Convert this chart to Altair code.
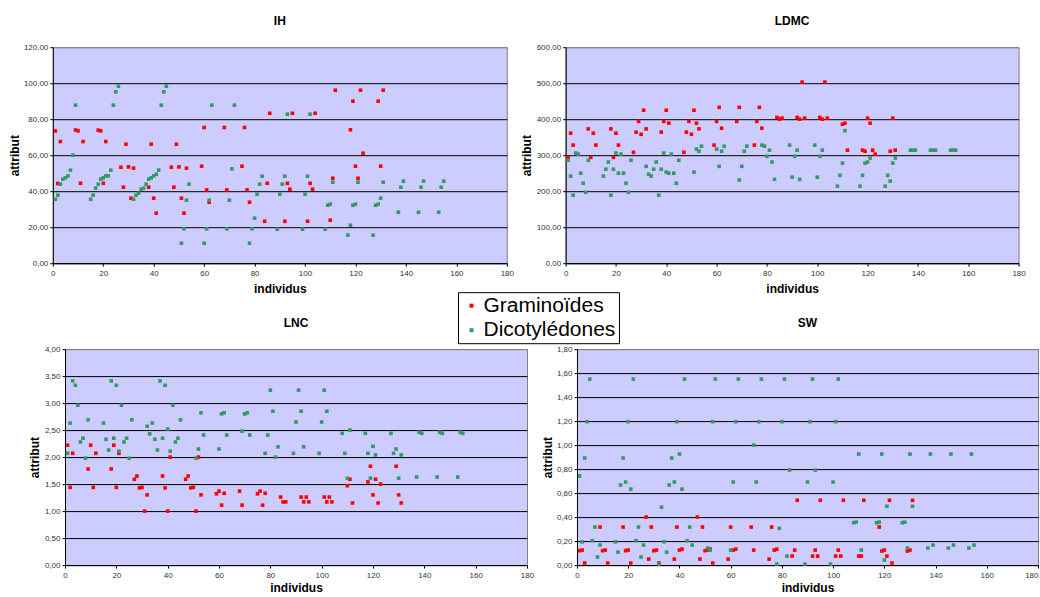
import altair as alt
import pandas as pd

FONT = "Liberation Sans"
GROUPS = ["Graminoïdes", "Dicotylédones"]
COLORS = ["#FF0000", "#339966"]

X_TICKS = [0, 20, 40, 60, 80, 100, 120, 140, 160, 180]
IH_TICKS = [0, 20, 40, 60, 80, 100, 120]
LDMC_TICKS = [0, 100, 200, 300, 400, 500, 600]
LNC_TICKS = [0, 0.5, 1.0, 1.5, 2.0, 2.5, 3.0, 3.5, 4.0]
SW_TICKS = [0, 0.2, 0.4, 0.6, 0.8, 1.0, 1.2, 1.4, 1.6, 1.8]

RED_IDX = [1, 2, 3, 9, 10, 11, 12, 18, 19, 20, 21, 27, 28, 29, 30, 31, 32,
           38, 39, 40, 41, 47, 48, 49, 50, 51, 52, 53, 59, 60, 61, 62, 68, 69,
           75, 76, 77, 78, 84, 85, 86, 92, 93, 94, 95, 101, 102, 103, 104,
           110, 111, 112, 118, 119, 120, 121, 122, 123, 129, 130, 131]
GREEN_IDX = [1, 2, 3, 4, 5, 6, 7, 8, 9,
             15, 16, 17, 18, 19, 20, 21, 22, 23, 24, 25, 26,
             32, 33, 34, 35, 36, 37, 38, 39, 40, 41, 42, 43, 44, 45,
             51, 52, 53, 54, 60, 61, 62, 63, 69, 70, 71, 72,
             78, 79, 80, 81, 82, 83, 89, 90, 91, 92, 93, 99, 100, 101, 102,
             108, 109, 110, 111, 117, 118, 119, 120, 121,
             127, 128, 129, 130, 131, 137, 138, 139, 145, 146, 147, 153, 154, 155]

IH_RED = [73.5, 44.3, 67.6, 74.0, 73.5, 44.4, 67.6, 73.9, 73.5, 44.4, 67.6,
          53.3, 42.2, 66.1, 53.5, 36.1, 52.8, 42.2, 66.1, 36.1, 27.8,
          53.3, 42.2, 66.1, 53.5, 36.1, 27.8, 52.8, 53.9, 75.4, 40.7, 33.9,
          75.4, 40.7, 53.9, 75.4, 40.7, 33.9, 23.3, 44.4, 83.3,
          23.3, 44.4, 41.1, 83.3, 23.3, 44.4, 41.1, 83.3, 23.9, 47.2, 96.1,
          74.1, 90.0, 53.9, 47.2, 96.1, 61.1, 90.0, 53.9, 96.1]
IH_GREEN = [35.5, 37.8, 43.9, 46.7, 47.4, 48.5, 51.7, 60.0, 87.8,
            35.5, 37.8, 41.7, 43.9, 46.7, 47.4, 48.5, 48.5, 51.7, 87.8, 95.2, 98.3,
            35.5, 37.8, 38.9, 41.1, 41.7, 43.9, 46.7, 47.4, 48.5, 49.4, 51.7, 87.8, 95.2, 98.3,
            11.1, 19.1, 35.0, 43.9, 11.1, 19.1, 35.0, 87.8, 19.1, 35.0, 52.4, 87.8,
            11.1, 19.1, 25.0, 38.3, 43.9, 48.3, 18.9, 38.3, 43.9, 48.3, 82.8,
            18.9, 38.3, 48.3, 82.8, 18.9, 32.2, 32.8, 45.0, 15.6, 21.1, 32.2, 32.8, 45.0,
            15.6, 32.2, 32.8, 36.1, 45.0, 28.3, 42.2, 45.6, 28.3, 42.2, 45.6, 28.3, 42.2, 45.6]

LDMC_RED = [294, 361, 328, 373, 294, 361, 328, 373, 294, 361, 328,
            308, 364, 394, 358, 425, 373, 364, 394, 425, 389,
            308, 364, 394, 358, 425, 389, 373, 328, 394, 433, 375,
            394, 433, 328, 394, 433, 375, 405, 400, 403,
            405, 400, 503, 403, 405, 400, 503, 403, 386, 389, 314,
            314, 311, 403, 389, 314, 303, 311, 403, 314]
LDMC_GREEN = [286, 242, 189, 306, 303, 250, 222, 197, 286,
              242, 261, 281, 189, 261, 306, 250, 303, 250, 222, 197, 286,
              269, 247, 242, 261, 281, 189, 261, 306, 253, 250, 303, 250, 222, 286,
              253, 317, 311, 325, 317, 269, 311, 325, 231, 269, 311, 325,
              328, 325, 297, 314, 281, 233, 328, 239, 297, 314, 233,
              328, 239, 297, 314, 214, 244, 278, 368, 214, 244, 278, 281, 292,
              214, 244, 228, 278, 292, 314, 314, 314, 314, 314, 314, 314, 314, 314]

LNC_RED = [2.22, 1.44, 2.07, 1.78, 2.22, 1.44, 2.07, 1.78, 2.22, 1.44, 2.07,
           1.59, 1.65, 1.43, 1.44, 1.00, 1.30, 1.65, 1.43, 1.00, 2.00,
           1.59, 1.65, 1.43, 1.44, 1.00, 2.00, 1.30, 1.32, 1.37, 1.11, 1.33,
           1.37, 1.11, 1.32, 1.37, 1.11, 1.33, 1.26, 1.17, 1.17,
           1.26, 1.17, 1.26, 1.17, 1.26, 1.17, 1.26, 1.17, 1.47, 1.59, 1.15,
           1.54, 1.83, 1.30, 1.59, 1.15, 1.50, 1.83, 1.30, 1.15]
LNC_GREEN = [2.07, 2.63, 3.41, 3.33, 2.96, 2.28, 2.35, 1.98, 2.69,
             2.63, 2.33, 2.13, 3.41, 2.35, 3.33, 2.11, 2.96, 2.28, 2.35, 1.98, 2.69,
             2.57, 2.43, 2.63, 2.33, 2.13, 3.41, 2.35, 3.33, 2.52, 2.11, 2.96, 2.28, 2.35, 2.69,
             1.98, 2.15, 2.82, 2.41, 2.15, 2.80, 2.82, 2.41, 2.48, 2.80, 2.82, 2.41,
             2.07, 2.41, 3.24, 2.85, 2.00, 2.19, 2.07, 2.65, 3.24, 2.85, 2.19,
             2.07, 2.65, 3.24, 2.85, 2.44, 2.07, 1.61, 2.50, 2.44, 2.07, 1.61, 2.20, 2.04,
             2.44, 2.07, 2.15, 1.61, 2.04, 1.63, 2.46, 2.44, 1.63, 2.46, 2.44, 1.63, 2.46, 2.44]

SW_RED = [0.12, 0.125, 0.017, 0.317, 0.12, 0.125, 0.017, 0.317, 0.12, 0.125, 0.017,
          0.40, 0.05, 0.317, 0.12, 0.125, 0.017, 0.05, 0.317, 0.125, 0.133,
          0.40, 0.05, 0.317, 0.12, 0.125, 0.133, 0.017, 0.05, 0.317, 0.125, 0.133,
          0.317, 0.125, 0.05, 0.317, 0.125, 0.133, 0.075, 0.125, 0.54,
          0.075, 0.125, 0.075, 0.54, 0.075, 0.125, 0.075, 0.54, 0.075, 0.075, 0.54,
          0.317, 0.117, 0.125, 0.075, 0.54, 0.017, 0.117, 0.125, 0.54]
SW_GREEN = [0.742, 0.194, 0.892, 1.195, 1.55, 0.203, 0.317, 0.067, 0.167,
            0.194, 0.108, 0.667, 0.892, 0.692, 1.195, 0.633, 1.55, 0.203, 0.317, 0.067, 0.167,
            0.008, 0.483, 0.194, 0.108, 0.667, 0.892, 0.692, 1.195, 0.925, 0.633, 1.55, 0.203, 0.317, 0.167,
            0.142, 0.125, 1.195, 1.55, 0.125, 0.692, 1.195, 1.55, 1.00, 0.692, 1.195, 1.55,
            0.008, 0.306, 1.195, 1.55, 0.075, 0.792, 0.008, 0.692, 1.195, 1.55, 0.792,
            0.008, 0.692, 1.195, 1.55, 0.353, 0.358, 0.925, 0.125, 0.353, 0.358, 0.925, 0.042, 0.49,
            0.353, 0.358, 0.142, 0.925, 0.49, 0.142, 0.925, 0.167, 0.142, 0.925, 0.167, 0.142, 0.925, 0.167]

PLOT_H = 216


def panel(title, red, green, ticks, width, ytitle_x, xtitle_y, flush_last=False):
    df = pd.DataFrame({
        "individus": RED_IDX + GREEN_IDX,
        "attribut": red + green,
        "groupe": [GROUPS[0]] * len(red) + [GROUPS[1]] * len(green),
    })
    ymax = ticks[-1]
    if flush_last:
        label_align = {"condition": {"test": "datum.value >= 180", "value": "right"}, "value": "center"}
    else:
        label_align = "center"
    xaxis = alt.Axis(
        values=X_TICKS, title="individus", grid=False,
        domainColor="#000000", tickColor="#000000", tickSize=3,
        labelFont=FONT, labelFontSize=8, labelColor="#333333",
        labelPadding=9.5, labelBaseline="alphabetic", labelFlush=False, labelOverlap=False,
        labelAlign=label_align,
        titleFont=FONT, titleFontSize=12, titleFontWeight="bold", titleColor="#000000",
        titleX=width / 2, titleY=xtitle_y, titleAlign="center", titleBaseline="alphabetic",
    )
    yaxis = alt.Axis(
        values=ticks, title="attribut",
        labelExpr="replace(format(datum.value, '.2f'), '.', ',')",
        grid=True,
        gridColor={"condition": {"test": f"datum.value >= {ymax * 0.999}", "value": "#808080"},
                   "value": "#000000"},
        gridWidth=1,
        domainColor="#000000", tickColor="#000000", tickSize=3,
        labelFont=FONT, labelFontSize=8, labelColor="#333333", labelPadding=2,
        labelOverlap=False,
        titleFont=FONT, titleFontSize=12, titleFontWeight="bold", titleColor="#000000",
        titleAngle=270, titleX=ytitle_x, titleY=PLOT_H / 2, titleAlign="center",
        titleBaseline="alphabetic",
    )
    legend = alt.Legend(
        orient="none", legendX=457, legendY=245, direction="vertical", title=None,
        fillColor="#FFFFFF", strokeColor="#000000", padding=3,
        symbolType="square", symbolSize=16, symbolStrokeWidth=0, symbolOffset=0,
        labelOffset=1.5, labelFont=FONT, labelFontSize=21, labelColor="#000000",
        rowPadding=2.5, labelLimit=300,
    )
    return alt.Chart(df).mark_square(size=13, opacity=1).encode(
        x=alt.X("individus:Q", scale=alt.Scale(domain=[0, 180], nice=False, zero=True), axis=xaxis),
        y=alt.Y("attribut:Q", scale=alt.Scale(domain=[0, ymax], nice=False), axis=yaxis),
        color=alt.Color("groupe:N", scale=alt.Scale(domain=GROUPS, range=COLORS), legend=legend),
    ).properties(
        width=width, height=PLOT_H,
        title=alt.TitleParams(text=title, font=FONT, fontSize=12, fontWeight="bold", color="#000000",
                              baseline="alphabetic", offset=6, anchor="middle", frame="group"),
        view=alt.ViewBackground(fill="#CCCCFF", stroke="#808080", strokeWidth=1),
    )


def spacer(width):
    return alt.Chart(pd.DataFrame({"v": [0]})).mark_point(
        opacity=0, size=0, strokeWidth=0
    ).properties(
        width=width, height=PLOT_H,
        view=alt.ViewBackground(fill="#FFFFFF", stroke="transparent"),
    )


ih = panel("IH", IH_RED, IH_GREEN, IH_TICKS, 454, -34.5, 29.2)
ldmc = panel("LDMC", LDMC_RED, LDMC_GREEN, LDMC_TICKS, 453, -35.5, 29.2)
lnc = panel("LNC", LNC_RED, LNC_GREEN, LNC_TICKS, 462, -26.2, 26.7)
sw = panel("SW", SW_RED, SW_GREEN, SW_TICKS, 461, -25.2, 26.7, flush_last=True)

top = alt.hconcat(spacer(1), ih, ldmc, spacing=4.8)
bottom = alt.hconcat(spacer(20.1), lnc, sw, spacing=6)

chart = alt.vconcat(top, bottom, spacing=20.9).properties(
    autosize=alt.AutoSizeParams(type="pad"),
    padding={"left": 0, "top": 14.2, "right": 1, "bottom": 1},
    background="#FFFFFF",
)

chart.save("out.html", embed_options={"renderer": "svg", "actions": False})
